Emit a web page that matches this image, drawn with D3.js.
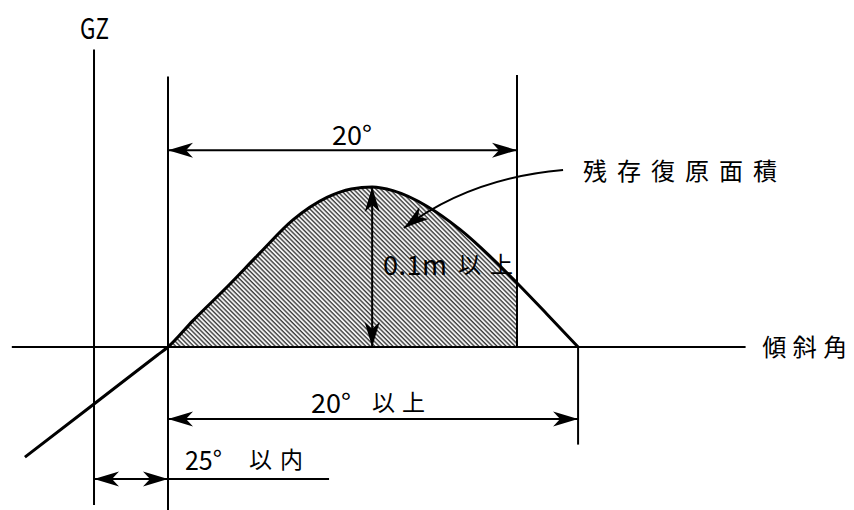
<!DOCTYPE html>
<html><head><meta charset="utf-8">
<script src="https://cdn.jsdelivr.net/npm/d3@7"></script>
<style>html,body{margin:0;padding:0;background:#fff;}svg{display:block}</style>
</head><body>
<svg id="c" width="854" height="510"></svg>
<script>
// GZ curve (heel angle in degrees, GZ in metres) – schematic
const curveAngles = [-8.2, -4.24, -0.6, 0, 1.43, 3.38, 5.27, 7.16, 9.11, 10.5, 11.7, 12.89, 14.84, 16.73, 18.62, 20, 21.72, 23.5];
const curveGZ     = [-0.0688, -0.0356, -0.005, 0, 0.0165, 0.0375, 0.0588, 0.0794, 0.0935, 0.0988, 0.1, 0.0977, 0.088, 0.0735, 0.055, 0.04, 0.0205, 0];
// key angles
const gzAxisAngle = -4.24;
const startAngle = 0;
const hatchEndAngle = 20;
const peakAngle = 11.7;
const peakGZ = 0.1;
const vanishAngle = 23.5;
// labels
const labels = ["GZ", "20°", "0.1m", "以上", "20°", "以上", "25°", "以内", "残存復原面積", "傾斜角"];

const svg = d3.select('#c');
const x = d3.scaleLinear().domain([0, 20]).range([168, 517]);
const y = d3.scaleLinear().domain([0, 0.1]).range([347, 187]);
const data = curveAngles.map((a, i) => ({a, g: curveGZ[i]}));

const defs = svg.append('defs');
const pat = defs.append('pattern').attr('id', 'hatch')
  .attr('patternUnits', 'userSpaceOnUse').attr('width', 3.2).attr('height', 10)
  .attr('patternTransform', 'rotate(-45)');
pat.append('line').attr('x1', 1).attr('y1', -1).attr('x2', 1).attr('y2', 11)
  .attr('stroke', '#3a3a3a').attr('stroke-width', 1.45);
defs.append('clipPath').attr('id', 'clipH').append('rect')
  .attr('x', x(startAngle)).attr('y', 0)
  .attr('width', x(hatchEndAngle) - x(startAngle)).attr('height', y(0));

const cv = d3.curveMonotoneX;
svg.append('path').datum(data)
  .attr('d', d3.area().x(d => x(d.a)).y0(y(0)).y1(d => y(d.g)).curve(cv))
  .attr('fill', 'url(#hatch)').attr('clip-path', 'url(#clipH)');

function ln(a1, g1, a2, g2, w) {
  svg.append('line').attr('x1', x(a1)).attr('y1', y(g1)).attr('x2', x(a2)).attr('y2', y(g2))
    .attr('stroke', '#000').attr('stroke-width', w || 2);
}
function head(a, g, dx, dy) {
  const ang = Math.atan2(dy, dx) * 180 / Math.PI;
  svg.append('path').attr('d', 'M0,0L-25,-7.5L-18,0L-25,7.5Z').attr('fill', '#000')
    .attr('transform', `translate(${x(a)},${y(g)}) rotate(${ang})`);
}

// axes & guide lines
ln(-8.95, 0, 33.1, 0, 2);
ln(gzAxisAngle, 0.186, gzAxisAngle, -0.0988, 2);
ln(startAngle, 0.169, startAngle, -0.103, 2);
ln(hatchEndAngle, 0.170, hatchEndAngle, 0, 2);
ln(vanishAngle, 0, vanishAngle, -0.061, 2);

// dimension arrows
ln(startAngle, 0.123, hatchEndAngle, 0.123, 2);
head(startAngle, 0.123, -1, 0); head(hatchEndAngle, 0.123, 1, 0);
ln(startAngle, -0.045, vanishAngle, -0.045, 2);
head(startAngle, -0.045, -1, 0); head(vanishAngle, -0.045, 1, 0);
ln(gzAxisAngle, -0.0825, 9.23, -0.0825, 2);
head(gzAxisAngle, -0.0825, -1, 0); head(startAngle, -0.0825, 1, 0);
ln(peakAngle, peakGZ, peakAngle, 0, 2);
head(peakAngle, peakGZ, 0, -1); head(peakAngle, 0, 0, 1);

// curve
svg.append('path').datum(data)
  .attr('d', d3.line().x(d => x(d.a)).y(d => y(d.g)).curve(cv))
  .attr('fill', 'none').attr('stroke', '#000').attr('stroke-width', 3).attr('stroke-linejoin', 'round');

// leader
const P0 = [22.64, 0.1106], C = [17.31, 0.1056], P2 = [13.52, 0.0744];
const p = d3.path();
p.moveTo(x(P0[0]), y(P0[1]));
p.quadraticCurveTo(x(C[0]), y(C[1]), x(P2[0]), y(P2[1]));
svg.append('path').attr('d', p.toString()).attr('fill', 'none').attr('stroke', '#000').attr('stroke-width', 2);
head(P2[0], P2[1], x(P2[0]) - x(C[0]), y(P2[1]) - y(C[1]));

// texts
function txt(s, a, g, w, fs, adj) {
  svg.append('text').attr('x', x(a)).attr('y', y(g)).text(s)
    .attr('font-family', "'Noto Sans CJK JP', 'Noto Sans', sans-serif")
    .attr('font-size', fs).attr('fill', '#000')
    .attr('textLength', w).attr('lengthAdjust', adj || 'spacingAndGlyphs');
}
txt(labels[0], -5.04, 0.1925, 29, 28);
txt(labels[1], 9.40, 0.1263, 40, 27);
txt(labels[2], 12.32, 0.045, 64, 27, 'spacing');
txt(labels[3], 16.62, 0.0465, 55, 23, 'spacing');
txt(labels[4], 8.19, -0.0413, 40, 27);
txt(labels[5], 11.69, -0.0400, 53, 23, 'spacing');
txt(labels[6], 0.974, -0.0769, 37, 27);
txt(labels[7], 4.64, -0.0756, 54, 23, 'spacing');
txt(labels[8], 23.78, 0.1044, 194, 24, 'spacing');
txt(labels[9], 34.05, -0.0056, 85, 24, 'spacing');
</script>
</body></html>
